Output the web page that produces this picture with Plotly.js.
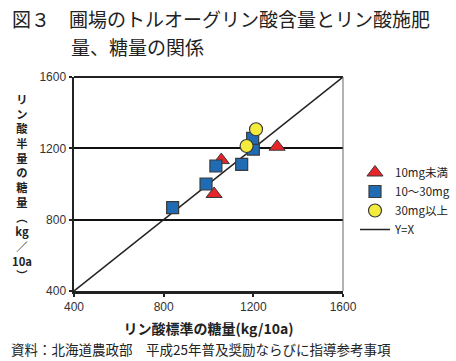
<!DOCTYPE html>
<html><head><meta charset="utf-8">
<script src="https://cdn.plot.ly/plotly-3.0.1.min.js"></script>
<style>body{margin:0;background:#fff}#c{width:456px;height:361px}</style>
</head><body><div id="c"></div>
<script>
// data
const triX = [1025, 1057, 1306];
const triY = [944, 1134, 1209];
const sqX = [840, 989, 1033, 1148, 1200, 1197];
const sqY = [867, 1000, 1101, 1110, 1196, 1256];
const ciX = [1170, 1212];
const ciY = [1213, 1307];
const lineXY = [400, 1600];
const ticks = [400, 800, 1200, 1600];
const names = ['10mg未満', '10～30mg', '30mg以上', 'Y=X'];
const yTitleChars = ['リ','ン','酸','半','量','の','糖','量','︵','kg','／','10a','︶'];

const jp = '"Noto Sans CJK JP", "Noto Sans", sans-serif';
const lat = '"Liberation Sans", Arial, sans-serif';
const L = 74, R = 343, T = 77, B = 291;
const px = x => (x - L) / (R - L);
const py = y => (B - y) / (B - T);

const traces = [
  {x: triX, y: triY, mode: 'markers', type: 'scatter', name: names[0], legendrank: 1,
   marker: {symbol: 'triangle-up', size: 14, color: '#e6252b', line: {color: '#3a3a3a', width: 1}}},
  {x: sqX, y: sqY, mode: 'markers', type: 'scatter', name: names[1], legendrank: 2,
   marker: {symbol: 'square', size: 12, color: '#1f6cb4', line: {color: '#3a3a3a', width: 1.2}}},
  {x: ciX, y: ciY, mode: 'markers', type: 'scatter', name: names[2], legendrank: 3,
   marker: {symbol: 'circle', size: 13, color: '#f4ec3c', line: {color: '#3a3a3a', width: 1.2}}},
  {x: lineXY, y: lineXY, mode: 'lines', type: 'scatter', name: names[3], legendrank: 4,
   line: {color: '#222', width: 1.5}}
];
const data = [traces[3], traces[0], traces[1], traces[2]];

const layout = {
  width: 456, height: 361,
  margin: {l: L, r: 456 - R, t: T, b: 361 - B, pad: 0, autoexpand: false},
  paper_bgcolor: '#fff', plot_bgcolor: '#fff',
  showlegend: true,
  legend: {x: px(355), y: py(158), xanchor: 'left', yanchor: 'top', traceorder: 'normal',
    font: {family: jp, size: 11.5, color: '#222'}, tracegroupgap: 5, bgcolor: 'rgba(0,0,0,0)'},
  xaxis: {range: [400, 1600], tickvals: ticks, ticktext: ticks.map(String), automargin: false,
    showgrid: false, zeroline: false, showline: true, linecolor: '#222', linewidth: 2.5, mirror: false,
    ticks: 'outside', ticklen: 3, tickwidth: 2, tickcolor: '#222',
    tickfont: {family: lat, size: 12, color: '#333'},
    title: {text: '<b>リン酸標準の糖量(kg/10a)</b>', font: {family: jp, size: 14, color: '#222'}, standoff: 12}},
  yaxis: {range: [400, 1600], tickvals: ticks, ticktext: ticks.map(String), automargin: false,
    showgrid: true, gridcolor: '#111', gridwidth: 2, zeroline: false,
    showline: true, linecolor: '#222', linewidth: 2.5,
    ticks: 'outside', ticklen: 3, tickwidth: 2, tickcolor: '#222',
    tickfont: {family: lat, size: 12, color: '#333'}},
  shapes: [
    {type: 'line', xref: 'paper', yref: 'paper', x0: 0, x1: 1, y0: 1, y1: 1, line: {color: '#222', width: 2}},
    {type: 'line', xref: 'paper', yref: 'paper', x0: 1, x1: 1, y0: 0, y1: 1, line: {color: '#666', width: 1}}
  ],
  annotations: [
    {xref: 'paper', yref: 'paper', x: px(10), y: py(18), xanchor: 'left', yanchor: 'middle', showarrow: false,
     text: '図３　圃場のトルオーグリン酸含量とリン酸施肥', font: {family: jp, size: 19, color: '#222'}},
    {xref: 'paper', yref: 'paper', x: px(69), y: py(46), xanchor: 'left', yanchor: 'middle', showarrow: false,
     text: '量、糖量の関係', font: {family: jp, size: 19, color: '#222'}},
    {xref: 'paper', yref: 'paper', x: px(22), y: py(186.5), xanchor: 'center', yanchor: 'middle', showarrow: false,
     text: '<b>' + yTitleChars.join('<br>') + '</b>', font: {family: jp, size: 11.3, color: '#222'}},
    {xref: 'paper', yref: 'paper', x: px(9), y: py(349), xanchor: 'left', yanchor: 'middle', showarrow: false,
     text: '資料：北海道農政部　平成25年普及奨励ならびに指導参考事項', font: {family: jp, size: 13.5, color: '#222'}}
  ]
};
Plotly.newPlot('c', data, layout, {displayModeBar: false, staticPlot: true});
</script></body></html>
